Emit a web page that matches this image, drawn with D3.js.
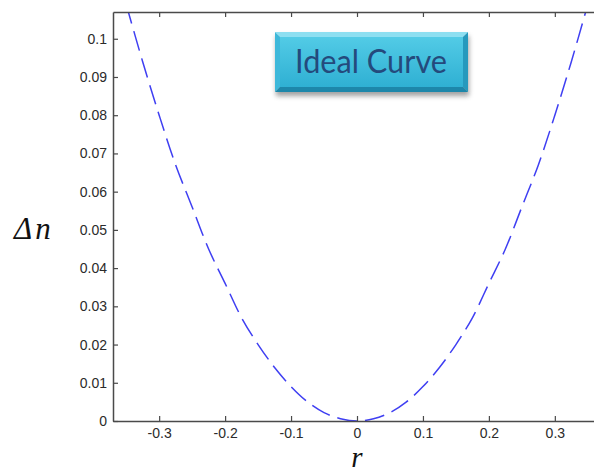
<!DOCTYPE html>
<html>
<head>
<meta charset="utf-8">
<script src="https://cdn.jsdelivr.net/npm/d3@7"></script>
<style>
  html, body { margin: 0; padding: 0; background: #fff; }
  svg { display: block; }
</style>
</head>
<body>
<svg id="chart" width="594" height="473"></svg>
<script>
// Ideal refractive-index profile: Δn against radius r
const radius = [-0.35, -0.325, -0.3, -0.275, -0.25, -0.225, -0.2, -0.175, -0.15, -0.125, -0.1, -0.075, -0.05, -0.025,
                0, 0.025, 0.05, 0.075, 0.1, 0.125, 0.15, 0.175, 0.2, 0.225, 0.25, 0.275, 0.3, 0.325, 0.35];
const deltaN = [0.109, 0.094, 0.080, 0.067, 0.056, 0.045, 0.036, 0.027, 0.020, 0.014, 0.009, 0.005, 0.0022, 0.0006,
                0, 0.0006, 0.0022, 0.005, 0.009, 0.014, 0.020, 0.027, 0.036, 0.045, 0.056, 0.067, 0.080, 0.094, 0.109];
const xTicks = [-0.3, -0.2, -0.1, 0, 0.1, 0.2, 0.3];
const xTickLabels = ["-0.3", "-0.2", "-0.1", "0", "0.1", "0.2", "0.3"];
const yTicks = [0, 0.01, 0.02, 0.03, 0.04, 0.05, 0.06, 0.07, 0.08, 0.09, 0.1];
const yTickLabels = ["0", "0.01", "0.02", "0.03", "0.04", "0.05", "0.06", "0.07", "0.08", "0.09", "0.1"];
const xDomain = [-0.37, 0.37];
const yDomain = [0, 0.107];
const titleText = "Ideal Curve";

const svg = d3.select("#chart");
const plot = { left: 113, right: 601, top: 12, bottom: 421 };

const x = d3.scaleLinear().domain(xDomain).range([plot.left, plot.right]);
const y = d3.scaleLinear().domain(yDomain).range([plot.bottom, plot.top]);

const defs = svg.append("defs");
defs.append("clipPath").attr("id", "plotClip")
  .append("rect")
  .attr("x", plot.left).attr("y", plot.top)
  .attr("width", plot.right - plot.left).attr("height", plot.bottom - plot.top + 1);

// dashed curve
const pts = radius.map((r, i) => [r, deltaN[i]]);
const line = d3.line().x(d => x(d[0])).y(d => y(d[1])).curve(d3.curveCatmullRom.alpha(0.5));
svg.append("path")
  .attr("clip-path", "url(#plotClip)")
  .attr("d", line(pts))
  .attr("fill", "none")
  .attr("stroke", "#3f3ff2")
  .attr("stroke-width", 1.5)
  .attr("stroke-dasharray", "20,8");

// axes (box style: left, bottom and top)
const axisColor = "#4a4a4a";
const gx = svg.append("g").attr("transform", `translate(0,${plot.bottom})`)
  .call(d3.axisBottom(x).tickValues(xTicks).tickFormat((d, i) => xTickLabels[i]).tickSizeInner(-5).tickSizeOuter(0).tickPadding(7));
const gxTop = svg.append("g").attr("transform", `translate(0,${plot.top})`)
  .call(d3.axisTop(x).tickValues(xTicks).tickFormat("").tickSizeInner(-5).tickSizeOuter(0));
const gy = svg.append("g").attr("transform", `translate(${plot.left},0)`)
  .call(d3.axisLeft(y).tickValues(yTicks).tickFormat((d, i) => yTickLabels[i]).tickSizeInner(-5).tickSizeOuter(0).tickPadding(6));

[gx, gxTop, gy].forEach(g => {
  g.select(".domain").attr("stroke", axisColor).attr("stroke-width", 1.5);
  g.selectAll(".tick line").attr("stroke", axisColor).attr("stroke-width", 1.2);
  g.selectAll(".tick text")
    .attr("fill", "#2b2b2b")
    .style("font-family", "'Liberation Sans', Arial, sans-serif")
    .style("font-size", "14px");
});
gx.selectAll(".tick text").attr("dy", "0.71em");

// faint smudge under the axis
const smudge = defs.append("filter").attr("id", "smudge").attr("x", "-20%").attr("y", "-200%").attr("width", "140%").attr("height", "500%");
smudge.append("feGaussianBlur").attr("stdDeviation", 1.4);
svg.append("line")
  .attr("x1", x(-0.145)).attr("x2", x(-0.04))
  .attr("y1", 445).attr("y2", 445)
  .attr("stroke", "#6b6be0").attr("stroke-width", 2.5)
  .attr("stroke-dasharray", "12,6").attr("opacity", 0.35)
  .attr("filter", "url(#smudge)");

// axis titles
svg.append("text")
  .attr("x", 14).attr("y", 239)
  .style("font-family", "'Liberation Serif', 'Times New Roman', serif")
  .style("font-style", "italic")
  .style("font-size", "31px")
  .style("letter-spacing", "3px")
  .attr("fill", "#111")
  .text("Δn");

svg.append("text")
  .attr("x", x(0)).attr("y", 467)
  .attr("text-anchor", "middle")
  .style("font-family", "'Liberation Serif', 'Times New Roman', serif")
  .style("font-style", "italic")
  .style("font-size", "29px")
  .attr("fill", "#111")
  .text("r");

// bevelled title button
const bx = 275, by = 32, bw = 193, bh = 60, bev = 5;
const shadow = defs.append("filter").attr("id", "btnShadow").attr("x", "-10%").attr("y", "-20%").attr("width", "120%").attr("height", "160%");
shadow.append("feGaussianBlur").attr("stdDeviation", 2.5);
const face = defs.append("linearGradient").attr("id", "btnFace").attr("x1", 0).attr("y1", 0).attr("x2", 0).attr("y2", 1);
face.append("stop").attr("offset", "0%").attr("stop-color", "#52cbe6");
face.append("stop").attr("offset", "100%").attr("stop-color", "#2fb0d3");

const btn = svg.append("g");
btn.append("rect")
  .attr("x", bx + 1).attr("y", by + 4).attr("width", bw).attr("height", bh)
  .attr("fill", "#555").attr("opacity", 0.55).attr("filter", "url(#btnShadow)");
const P = (arr) => arr.map(p => p.join(",")).join(" ");
btn.append("polygon").attr("points", P([[bx, by], [bx + bw, by], [bx + bw - bev, by + bev], [bx + bev, by + bev]])).attr("fill", "#8ddff1");
btn.append("polygon").attr("points", P([[bx, by], [bx + bev, by + bev], [bx + bev, by + bh - bev], [bx, by + bh]])).attr("fill", "#3db8da");
btn.append("polygon").attr("points", P([[bx + bw, by], [bx + bw, by + bh], [bx + bw - bev, by + bh - bev], [bx + bw - bev, by + bev]])).attr("fill", "#2699bd");
btn.append("polygon").attr("points", P([[bx, by + bh], [bx + bev, by + bh - bev], [bx + bw - bev, by + bh - bev], [bx + bw, by + bh]])).attr("fill", "#1d87aa");
btn.append("rect")
  .attr("x", bx + bev).attr("y", by + bev).attr("width", bw - 2 * bev).attr("height", bh - 2 * bev)
  .attr("fill", "url(#btnFace)");
btn.append("text")
  .attr("x", bx + bw / 2 - 0.5).attr("y", by + 41)
  .attr("text-anchor", "middle")
  .attr("textLength", 152).attr("lengthAdjust", "spacingAndGlyphs")
  .style("font-family", "Lato, 'Open Sans', sans-serif")
  .style("font-size", "33px")
  .attr("fill", "#244a7c")
  .text(titleText);
</script>
</body>
</html>
